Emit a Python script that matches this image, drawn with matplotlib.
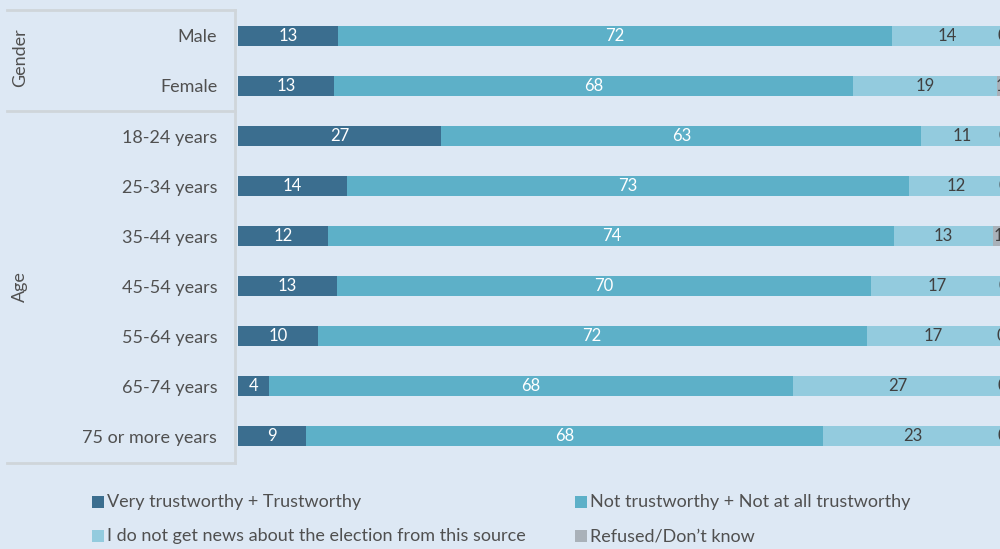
import matplotlib
matplotlib.use("Agg")
import matplotlib.pyplot as plt
from matplotlib.lines import Line2D
from matplotlib.patches import Rectangle

plt.rcParams['font.family'] = ['Lato', 'DejaVu Sans']

categories = ["Male", "Female", "18-24 years", "25-34 years", "35-44 years",
              "45-54 years", "55-64 years", "65-74 years", "75 or more years"]
# shares in %; labels show them rounded
trustworthy = [13.1, 12.6, 26.6, 14.3, 11.8, 12.9, 10.4, 4.1, 8.9]
not_trustworthy = [72.4, 67.8, 62.7, 73.4, 74.0, 69.8, 71.8, 68.4, 67.6]
no_news = [14.4, 18.8, 10.7, 12.3, 12.9, 17.3, 17.4, 27.4, 23.4]
refused = [0.1, 0.8, 0.0, 0.0, 1.3, 0.0, 0.4, 0.1, 0.1]

series = [
    ("Very trustworthy + Trustworthy", trustworthy, "#3b6e8f", "white"),
    ("Not trustworthy + Not at all trustworthy", not_trustworthy, "#5db0c8", "white"),
    ("I do not get news about the election from this source", no_news, "#93cbde", "#404040"),
    ("Refused/Don\u2019t know", refused, "#a9b1b9", "#404040"),
]

bg = "#dde8f4"
W, H = 1000, 549
fig = plt.figure(figsize=(10, 5.49), dpi=100, facecolor=bg)

# axes deliberately runs past the right edge (as in the original crop)
ax = fig.add_axes([238 / W, 1 - 461 / H, 765 / W, 450 / H])
ax.set_facecolor(bg)
ax.patch.set_alpha(0)

y = range(len(categories))
left = [0] * len(categories)
for name, vals, color, tcolor in series:
    ax.barh(y, vals, left=left, height=0.4, color=color, edgecolor="none")
    for i, v in enumerate(vals):
        ax.text(left[i] + v / 2, i, str(round(v)), ha="center", va="center",
                fontsize=12, color=tcolor)
    left = [l + v for l, v in zip(left, vals)]

ax.set_xlim(0, 100)
ax.set_ylim(len(categories) - 0.5, -0.5)
ax.set_yticks(list(y))
ax.set_yticklabels(categories, fontsize=13, color="#505050")
ax.tick_params(axis="y", length=0, pad=15)
ax.set_xticks([])
for s in ax.spines.values():
    s.set_visible(False)

# group brackets on the left
lc = "#cfd5da"
def fx(px):
    return px / W
def fy(py):
    return 1 - py / H
for py in (10, 111, 463):
    fig.add_artist(Line2D([fx(7), fx(235)], [fy(py), fy(py)], color=lc, lw=2))
fig.add_artist(Line2D([fx(235), fx(235)], [fy(10), fy(463)], color=lc, lw=2))
fig.text(fx(20), fy(58), "Gender", rotation=90, ha="center", va="center",
         fontsize=13, color="#505050")
fig.text(fx(20), fy(287), "Age", rotation=90, ha="center", va="center",
         fontsize=13, color="#505050")

# legend
legend_pos = [(92, 502), (575, 502), (92, 536), (575, 536)]
for (name, vals, color, tcolor), (px, py) in zip(series, legend_pos):
    fig.add_artist(Rectangle((fx(px), fy(py + 6)), 12 / W, 12 / H,
                             transform=fig.transFigure, color=color, lw=0))
    fig.text(fx(px + 15), fy(py), name, ha="left", va="center",
             fontsize=13, color="#505050")

fig.savefig("out.png", dpi=100, facecolor=bg)
